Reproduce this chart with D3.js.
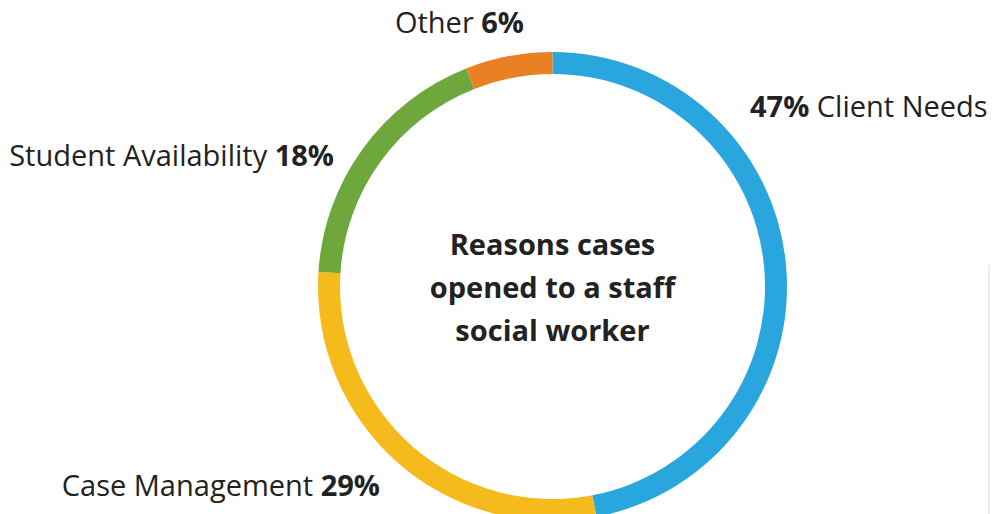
<!DOCTYPE html>
<html>
<head>
<meta charset="utf-8">
<script src="https://cdn.jsdelivr.net/npm/d3@7"></script>
<style>
  html, body { margin: 0; padding: 0; background: #fff; }
  svg { display: block; font-family: "Open Sans", sans-serif; }
</style>
</head>
<body>
<svg id="chart" width="992" height="514"></svg>
<script>
const categories = ["Client Needs", "Case Management", "Student Availability", "Other"];
const values = [47, 29, 18, 6];
const colors = ["#2aa6df", "#f5ba1b", "#6ea83d", "#ea8024"];
const titleLines = ["Reasons cases", "opened to a staff", "social worker"];

const W = 992, H = 514;
const cx = 552.5, cy = 286.5, outerR = 234.5, innerR = 212.5;
const fontSize = 29;

const svg = d3.select("#chart");

// faint frame line at right edge
svg.append("rect").attr("x", 988).attr("y", 265).attr("width", 2).attr("height", H - 265).attr("fill", "#ececec");

const g = svg.append("g").attr("transform", `translate(${cx},${cy})`);

const pie = d3.pie().sort(null).value(d => d.value);
const data = categories.map((c, i) => ({ cat: c, value: values[i], color: colors[i] }));
const arcs = pie(data);
const arc = d3.arc().innerRadius(innerR).outerRadius(outerR);

g.selectAll("path.slice").data(arcs).join("path")
  .attr("class", "slice")
  .attr("d", arc)
  .attr("fill", d => d.data.color);

// Label layout
const labelLayout = {
  "Client Needs": { x: 750, y: 117, anchor: "start", pctFirst: true },
  "Case Management": { x: 380, y: 496, anchor: "end", pctFirst: false },
  "Student Availability": { x: 334, y: 166, anchor: "end", pctFirst: false },
  "Other": { x: 524, y: 33, anchor: "end", pctFirst: false }
};

arcs.forEach(a => {
  const L = labelLayout[a.data.cat];
  const t = svg.append("text")
    .attr("x", L.x).attr("y", L.y)
    .attr("text-anchor", L.anchor)
    .attr("font-size", fontSize)
    .attr("fill", "#222");
  const pct = d3.format(".0f")(a.data.value) + "%";
  if (L.pctFirst) {
    t.append("tspan").attr("font-weight", 700).text(pct);
    t.append("tspan").text(" " + a.data.cat);
  } else {
    t.append("tspan").text(a.data.cat + " ");
    t.append("tspan").attr("font-weight", 700).text(pct);
  }
});

// center title
const lineH = 43;
svg.append("g").selectAll("text").data(titleLines).join("text")
  .attr("x", cx)
  .attr("y", (d, i) => cy - 32 + i * lineH)
  .attr("text-anchor", "middle")
  .attr("font-size", fontSize)
  .attr("font-weight", 700)
  .attr("fill", "#222")
  .text(d => d);
</script>
</body>
</html>
